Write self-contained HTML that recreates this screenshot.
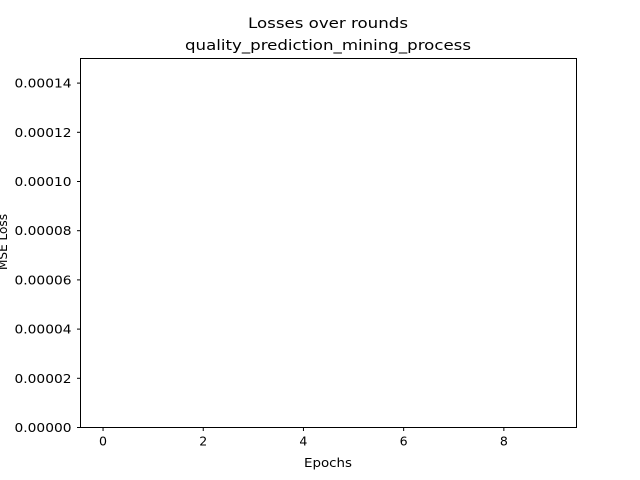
<!DOCTYPE html>
<html><head><meta charset="utf-8"><style>
body{margin:0;background:#fff;}
svg{display:block;font-family:"DejaVu Sans","Liberation Sans",sans-serif;}
</style></head><body>
<svg id="chart" width="640" height="480" viewBox="0 0 640 480">
<rect width="640" height="480" fill="#fff"/>
<text x="328" y="28" text-anchor="middle" font-size="14" textLength="160" lengthAdjust="spacingAndGlyphs">Losses over rounds</text>
<text x="328" y="50" text-anchor="middle" font-size="14" textLength="286" lengthAdjust="spacingAndGlyphs">quality_prediction_mining_process</text>
<g id="ticks"></g>
<g id="series"></g>
<rect x="80.5" y="58.5" width="496" height="369" fill="none" stroke="#000" stroke-width="1"/>
<text x="328" y="467" text-anchor="middle" font-size="12" textLength="48" lengthAdjust="spacingAndGlyphs">Epochs</text>
<text transform="translate(7,242) rotate(-90)" text-anchor="middle" font-size="12" textLength="56" lengthAdjust="spacingAndGlyphs">MSE Loss</text>
</svg>
<script>
const xTicks = [0, 2, 4, 6, 8];
const yTicks = [0, 0.00002, 0.00004, 0.00006, 0.00008, 0.00010, 0.00012, 0.00014];
const yTickLabels = ["0.00000","0.00002","0.00004","0.00006","0.00008","0.00010","0.00012","0.00014"];
const epochs = [];
const losses = [];

const NS = "http://www.w3.org/2000/svg";
const L = 80.5, R = 576.5, T = 58.5, B = 427.5;
const xMin = -0.45, xMax = 9.45, yMin = 0, yMax = 0.00015;
function xs(v){ return L + (v - xMin) / (xMax - xMin) * (R - L); }
function ys(v){ return B - (v - yMin) / (yMax - yMin) * (B - T); }

const tg = document.getElementById('ticks');
xTicks.forEach(function(t){
  const x = xs(t);
  const ln = document.createElementNS(NS, 'line');
  ln.setAttribute('x1', x); ln.setAttribute('x2', x);
  ln.setAttribute('y1', B); ln.setAttribute('y2', B + 3.5);
  ln.setAttribute('stroke', '#000');
  
  
  tg.appendChild(ln);
  const tx = document.createElementNS(NS, 'text');
  tx.setAttribute('x', x); tx.setAttribute('y', B + 18);
  tx.setAttribute('text-anchor', 'middle'); tx.setAttribute('font-size', '12');
  tx.setAttribute('textLength', '8'); tx.setAttribute('lengthAdjust', 'spacingAndGlyphs');
  tx.textContent = String(t);
  
  
  tg.appendChild(tx);
});
yTicks.forEach(function(t, i){
  const y = ys(t);
  const ln = document.createElementNS(NS, 'line');
  ln.setAttribute('x1', L - 3.5); ln.setAttribute('x2', L);
  ln.setAttribute('y1', y); ln.setAttribute('y2', y);
  ln.setAttribute('stroke', '#000');
  
  
  tg.appendChild(ln);
  const tx = document.createElementNS(NS, 'text');
  tx.setAttribute('x', L - 9); tx.setAttribute('y', y + 4.5);
  tx.setAttribute('text-anchor', 'end'); tx.setAttribute('font-size', '12');
  tx.setAttribute('textLength', '57'); tx.setAttribute('lengthAdjust', 'spacingAndGlyphs');
  tx.textContent = yTickLabels[i];
  
  
  tg.appendChild(tx);
});

if (losses.length) {
  const sg = document.getElementById('series');
  const pl = document.createElementNS(NS, 'polyline');
  pl.setAttribute('points', losses.map(function(v, i){ return xs(epochs[i] !== undefined ? epochs[i] : i) + ',' + ys(v); }).join(' '));
  pl.setAttribute('fill', 'none'); pl.setAttribute('stroke', '#1f77b4'); pl.setAttribute('stroke-width', '1.5');
  
  
  sg.appendChild(pl);
}
</script>
</body></html>
